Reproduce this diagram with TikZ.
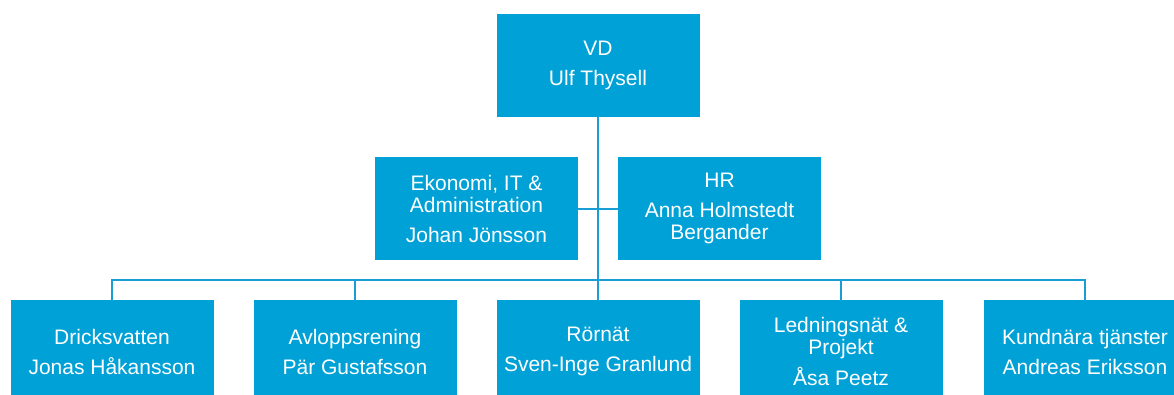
\documentclass[tikz,border=0pt]{standalone}
\usepackage{fontspec}
\setmainfont{Liberation Sans}
\usepackage{tikz}
\usetikzlibrary{positioning}

\definecolor{boxblau}{RGB}{0,161,214}
\definecolor{linienblau}{RGB}{24,158,212}

\tikzset{
	einheit/.style={fill=boxblau, text=white, minimum width=203, minimum height=103,
		inner sep=0pt, align=center, font=\fontsize{21}{22}\selectfont},
	linie/.style={linienblau, line width=2pt}
}

\begin{document}
\begin{tikzpicture}[x=1pt, y=-1pt]
	
	%Rahmen
	\useasboundingbox (0, 0) rectangle (1174, 394);
	\clip (0, 0) rectangle (1174, 394);
	\fill[white] (0, 0) rectangle (1174, 394);
	
	%Chef
	\node[einheit] (vd) at (598, 65.5) {VD\\[8pt]Ulf Thysell};
	
	%Stab
	\node[einheit] (ekonomi) at (476.5, 208.5) {Ekonomi, IT \&\\Administration\\[8pt]Johan Jönsson};
	\node[einheit] (hr) at (719.5, 208.5) {HR\\[8pt]Anna Holmstedt\\Bergander};
	
	%Abteilungen
	\node[einheit] (dricks) at (112, 351.5) {Dricksvatten\\[8pt]Jonas Håkansson};
	\node[einheit] (avlopp) at (355, 351.5) {Avloppsrening\\[8pt]Pär Gustafsson};
	\node[einheit] (rornat) at (598, 351.5) {Rörnät\\[8pt]Sven-Inge Granlund};
	\node[einheit] (ledning) at (841, 351.5) {Ledningsnät \&\\Projekt\\[8pt]Åsa Peetz};
	\node[einheit] (kund) at (1085, 351.5) {Kundnära tjänster\\[8pt]Andreas Eriksson};
	
	%Verbindungen
	\coordinate (bus) at (598, 280);
	\draw[linie] (vd.south) -- (rornat.north);
	\draw[linie] (ekonomi.east) -- (hr.west);
	\draw[linie] (dricks.north) |- (bus) -| (kund.north);
	\draw[linie] (avlopp.north) -- (avlopp.north |- bus);
	\draw[linie] (ledning.north) -- (ledning.north |- bus);

\end{tikzpicture}
\end{document}
